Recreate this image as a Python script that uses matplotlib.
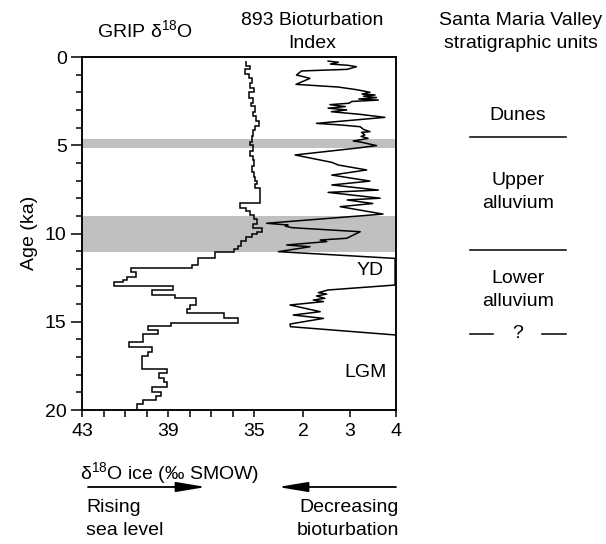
import matplotlib
matplotlib.use("Agg")
import matplotlib.pyplot as plt
from matplotlib.lines import Line2D

plt.rcParams['font.family'] = ['Liberation Sans', 'DejaVu Sans']
plt.rcParams['font.size'] = 14
plt.rcParams['mathtext.fontset'] = 'custom'
plt.rcParams['mathtext.rm'] = 'Liberation Sans'
plt.rcParams['mathtext.it'] = 'Liberation Sans:italic'

# GRIP d18O (step record): age boundaries (ka) and value in each interval (shown as -permil, axis reversed)
d18o_edges = [0.25, 0.5, 0.7, 0.95, 1.2, 1.5, 1.75, 2.0, 2.3, 2.6, 2.8, 3.1, 3.35, 3.6, 3.9,
              4.15, 4.5, 4.8, 5.0, 5.3, 5.6, 5.85, 6.2, 6.5, 6.8, 7.0, 7.2, 7.4, 8.3, 8.55,
              8.75, 8.95, 9.2, 9.45, 9.7, 9.9, 10.05, 10.2, 10.45, 10.7, 10.9, 11.05, 11.4,
              11.78, 11.96, 12.2, 12.45, 12.63, 12.75, 13.0, 13.2, 13.5, 13.63, 14.05, 14.28,
              14.52, 14.77, 15.09, 15.22, 15.47, 15.69, 16.17, 16.41, 16.7, 16.94, 17.7,
              17.93, 18.2, 18.43, 18.68, 19.0, 19.19, 19.43, 19.66, 20.0]
d18o_vals = [35.35, 35.2, 35.4, 35.25, 35.1, 35.2, 35.0, 35.25, 35.05, 35.15, 34.95, 35.05,
             34.9, 34.75, 34.95, 35.05, 35.1, 35.2, 35.05, 35.2, 35.05, 35.0, 35.1, 35.0,
             34.95, 34.85, 34.95, 34.72, 35.65, 35.35, 35.2, 35.0, 34.85, 35.05, 34.65,
             34.85, 35.1, 35.35, 35.6, 35.75, 35.95, 36.8, 37.59, 37.9, 40.7, 40.5, 40.9,
             41.1, 41.5, 38.78, 39.76, 38.67, 37.7, 38.0, 38.13, 36.4, 35.73, 38.86, 39.92,
             39.48, 40.18, 40.8, 39.76, 39.92, 40.2, 39.06, 39.42, 39.19, 39.03, 39.73,
             39.33, 39.56, 40.15, 40.46]

# core 893 bioturbation index
bio_age = [0.23, 0.30, 0.40, 0.47, 0.55, 0.70, 0.79, 1.02, 1.21, 1.55, 1.70, 1.85, 2.0,
           2.1, 2.15, 2.22, 2.3, 2.38, 2.44, 2.52, 2.62, 2.70, 2.81, 2.9, 3.0, 3.1, 3.25,
           3.42, 3.76, 3.85, 3.95, 4.1, 4.23, 4.27, 4.42, 4.5, 4.61, 4.76, 4.83, 5.02, 5.14,
           5.55, 5.97, 6.12, 6.4, 6.69, 7.03, 7.25, 7.54, 7.67, 8.0, 8.1, 8.3, 8.48, 8.9,
           9.42, 9.52, 9.58, 9.67, 9.9, 10.27, 10.37, 10.46, 10.65, 10.75, 11.03, 11.41,
           12.92, 13.2, 13.35, 13.43, 13.54, 13.67, 13.77, 13.86, 14.05, 14.43, 14.62,
           14.81, 15.13, 15.28, 15.75]
bio_val = [2.54, 2.76, 2.59, 2.97, 3.15, 2.95, 1.97, 1.86, 2.15, 1.85, 2.75, 3.15, 3.44,
           3.27, 3.55, 3.3, 3.58, 3.2, 3.62, 3.05, 2.99, 2.58, 2.91, 2.54, 2.94, 2.61, 3.23,
           3.76, 2.29, 2.80, 3.23, 3.3, 3.44, 3.26, 3.33, 3.25, 3.40, 3.08, 3.26, 3.58, 3.23,
           1.83, 2.62, 2.76, 3.37, 2.62, 3.44, 2.62, 3.62, 2.54, 3.66, 2.95, 3.5, 2.8, 3.72,
           1.22, 1.68, 1.62, 1.76, 3.23, 2.94, 2.37, 2.51, 1.65, 2.15, 1.47, 3.98,
           3.98, 2.54, 2.33, 2.51, 2.29, 2.47, 2.22, 2.44, 1.72, 2.37, 1.79,
           2.44, 1.72, 1.73, 3.99]

bands = [(4.65, 5.15), (9.0, 11.05)]
units = ["Dunes", "Upper\nalluvium", "Lower\nalluvium"]

W, H = 606, 544
fig = plt.figure(figsize=(W / 100, H / 100), dpi=100)
ax = fig.add_axes([82 / W, 1 - 410 / H, 314 / W, 353 / H])

for b in bands:
    ax.axhspan(b[0], b[1], color='#c0c0c0', lw=0, zorder=0)
ax.stairs(d18o_vals, d18o_edges, orientation='horizontal', baseline=None,
          color='k', lw=1.1, zorder=3)
ax.set_xlim(43, 43 - 314 / 21.5)
ax.set_ylim(20, 0)
ax.set_xticks([43, 39, 35])
ax.set_xticks([42, 41, 40, 38, 37, 36], minor=True)
ax.set_yticks([0, 5, 10, 15, 20])
ax.set_yticks(range(21), minor=True)
ax.tick_params(axis='x', which='both', length=5, width=1.1, pad=4)
ax.tick_params(axis='y', which='major', length=8, width=1.1, pad=3)
ax.tick_params(axis='y', which='minor', length=4.3, width=1.1)
for s in ax.spines.values():
    s.set_linewidth(1.1)

ax2 = ax.twiny()
ax2.plot(bio_val, bio_age, color='k', lw=1.1, zorder=3)
ax2.set_xlim(4 - 314 / 46.5, 4)
ax2.xaxis.set_ticks_position('bottom')
ax2.set_xticks([2, 3, 4])
ax2.tick_params(axis='x', length=5, width=1.1, pad=4)
for s in ax2.spines.values():
    s.set_linewidth(1.1)
ax2.text(3.44, 12.1, "YD", ha='center', va='center')
ax2.text(3.35, 17.85, "LGM", ha='center', va='center')

def px(x, y):
    return x / W, 1 - y / H

LS = 1.42
fig.text(*px(30, 233), "Age (ka)", rotation=90, ha='center', va='center')
fig.text(*px(145, 30), r"GRIP δ$^{18}$O", ha='center', va='center')
fig.text(*px(312, 32), "893 Bioturbation\nIndex", ha='center', va='center', linespacing=LS)
fig.text(*px(521, 32), "Santa Maria Valley\nstratigraphic units", ha='center', va='center',
         linespacing=LS)
fig.text(*px(80, 473), r"δ$^{18}$O ice (‰ SMOW)", ha='left', va='center')

# stratigraphic column
fig.text(*px(518, 115), units[0], ha='center', va='center')
fig.text(*px(518, 192), units[1], ha='center', va='center', linespacing=LS)
fig.text(*px(518, 290), units[2], ha='center', va='center', linespacing=LS)
fig.text(*px(518, 334), "?", ha='center', va='center')
for (x0, x1, y) in [(470, 566, 137), (470, 566, 250), (470, 493, 334), (542, 566, 334)]:
    fig.add_artist(Line2D([x0 / W, x1 / W], [1 - y / H, 1 - y / H], color='k', lw=1.1,
                          transform=fig.transFigure))

# arrows
arrow = dict(arrowstyle='-|>,head_length=1.8,head_width=0.3', color='k', lw=1.3,
             mutation_scale=10, shrinkA=0, shrinkB=0)
ax.annotate("", xy=px(206, 487), xytext=px(88, 487), xycoords='figure fraction',
            textcoords='figure fraction', arrowprops=arrow)
ax.annotate("", xy=px(278, 487), xytext=px(396, 487), xycoords='figure fraction',
            textcoords='figure fraction', arrowprops=arrow)
fig.text(*px(86, 519), "Rising\nsea level", ha='left', va='center', linespacing=LS)
fig.text(*px(399, 519), "Decreasing\nbioturbation", ha='right', va='center',
         linespacing=LS, multialignment='right')

fig.savefig("out.png", dpi=100)
